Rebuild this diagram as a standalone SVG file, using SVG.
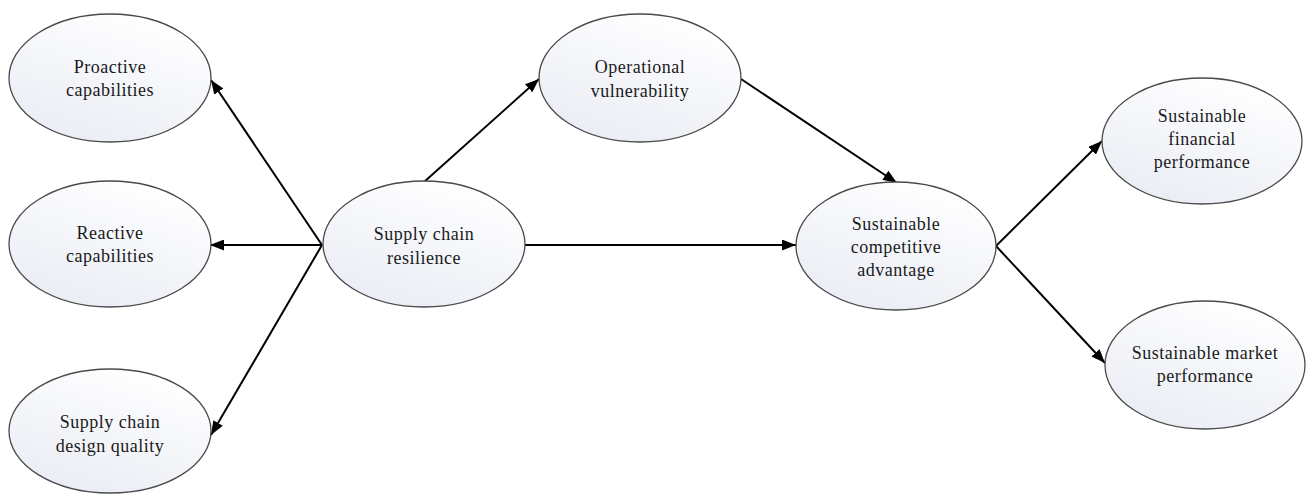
<svg xmlns="http://www.w3.org/2000/svg" width="1307" height="495" viewBox="0 0 1307 495">
<style>
.node ellipse{fill:url(#g);stroke:#4a4a4a;stroke-width:1.3}
.node text{font-family:"Liberation Serif","Times New Roman",serif;font-size:18px;fill:#1a1a1a;text-anchor:middle;letter-spacing:0.5px}
.edges line{stroke:#000;stroke-width:2;marker-end:url(#ah)}
</style>
<defs>
<linearGradient id="g" x1="0.7" y1="0" x2="0.2" y2="1">
<stop offset="0" stop-color="#ffffff"/>
<stop offset="1" stop-color="#e9ecf4"/>
</linearGradient>
<marker id="ah" viewBox="0 0 14 11" refX="14" refY="5.5" markerWidth="14" markerHeight="11" markerUnits="userSpaceOnUse" orient="auto">
<path d="M0,0 L14,5.5 L0,11 z" fill="#000"/>
</marker>
</defs>
<rect width="1307" height="495" fill="#fff"/>
<g class="edges">
<line x1="322" y1="245" x2="211" y2="80"/>
<line x1="322" y1="245" x2="210" y2="245"/>
<line x1="322" y1="245" x2="211" y2="435"/>
<line x1="424" y1="182" x2="539" y2="79"/>
<line x1="741" y1="79" x2="897" y2="183"/>
<line x1="525" y1="245" x2="796" y2="245"/>
<line x1="996" y1="246" x2="1102" y2="141"/>
<line x1="996" y1="246" x2="1105" y2="363"/>
</g>
<g class="node" id="proactive">
<ellipse cx="110" cy="78" rx="101" ry="64"/>
<text x="110" y="73">Proactive</text>
<text x="110" y="96">capabilities</text>
</g>
<g class="node" id="reactive">
<ellipse cx="110" cy="244" rx="101" ry="63"/>
<text x="110" y="239">Reactive</text>
<text x="110" y="262">capabilities</text>
</g>
<g class="node" id="design">
<ellipse cx="110" cy="431" rx="101" ry="62"/>
<text x="110" y="428">Supply chain</text>
<text x="110" y="452">design quality</text>
</g>
<g class="node" id="resilience">
<ellipse cx="424" cy="244" rx="101" ry="63"/>
<text x="424" y="240">Supply chain</text>
<text x="424" y="264">resilience</text>
</g>
<g class="node" id="operational">
<ellipse cx="640" cy="78" rx="101" ry="64"/>
<text x="640" y="73">Operational</text>
<text x="640" y="97">vulnerability</text>
</g>
<g class="node" id="competitive">
<ellipse cx="896" cy="246" rx="100" ry="64"/>
<text x="896" y="230">Sustainable</text>
<text x="896" y="253">competitive</text>
<text x="896" y="276">advantage</text>
</g>
<g class="node" id="financial">
<ellipse cx="1202" cy="141" rx="100" ry="63"/>
<text x="1202" y="122">Sustainable</text>
<text x="1202" y="145">financial</text>
<text x="1202" y="168">performance</text>
</g>
<g class="node" id="market">
<ellipse cx="1205" cy="365" rx="100" ry="64"/>
<text x="1205" y="359">Sustainable market</text>
<text x="1205" y="382">performance</text>
</g>
</svg>
